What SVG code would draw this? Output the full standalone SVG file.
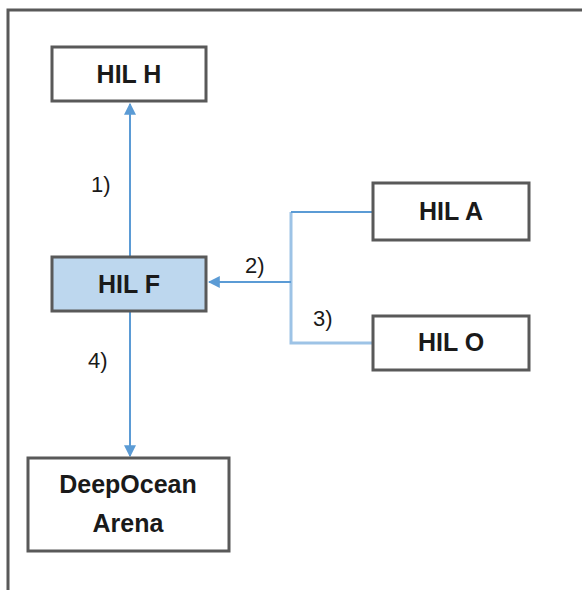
<svg xmlns="http://www.w3.org/2000/svg" width="582" height="590" viewBox="0 0 582 590">
<defs>
<style>
.box{fill:#ffffff;stroke:#595959;stroke-width:3}
.hl{fill:#bdd7ee}
.t{font-family:"Liberation Sans",Arial,sans-serif;font-weight:bold;font-size:25px;fill:#1a1a1a;text-anchor:middle}
.lb{font-family:"Liberation Sans",Arial,sans-serif;font-size:22px;fill:#1a1a1a}
.c{fill:none;stroke:#5b9bd5;stroke-width:2}
.cl{fill:none;stroke:#9dc3e6;stroke-width:3}
</style>
<marker id="ah" viewBox="0 0 10 10" refX="9" refY="5" markerWidth="6" markerHeight="6" orient="auto" markerUnits="strokeWidth">
<path d="M0,0 L10,5 L0,10 z" fill="#5b9bd5"/>
</marker>
</defs>
<rect width="582" height="590" fill="#ffffff"/>
<path d="M8,590 V10 H582" fill="none" stroke="#595959" stroke-width="3"/>
<g id="connectors">
<line class="c" x1="130" y1="257" x2="130" y2="104" marker-end="url(#ah)"/>
<line class="c" x1="130" y1="311" x2="130" y2="456" marker-end="url(#ah)"/>
<path class="cl" d="M291,212 V343 H373"/>
<path class="c" d="M291,212 H373"/>
<line class="c" x1="291" y1="282" x2="209" y2="282" marker-end="url(#ah)"/>
<text class="lb" x="91" y="192">1)</text>
<text class="lb" x="245" y="273">2)</text>
<text class="lb" x="313" y="326">3)</text>
<text class="lb" x="88" y="368">4)</text>
</g>
<g id="hil-h"><rect class="box" x="52" y="47" width="154" height="54"/><text class="t" x="129" y="83">HIL H</text></g>
<g id="hil-f"><rect class="box hl" x="52" y="257" width="154" height="54"/><text class="t" x="129" y="293">HIL F</text></g>
<g id="hil-a"><rect class="box" x="373" y="183" width="156" height="57"/><text class="t" x="451" y="220">HIL A</text></g>
<g id="hil-o"><rect class="box" x="373" y="316" width="156" height="54"/><text class="t" x="451" y="351">HIL O</text></g>
<g id="deepocean"><rect class="box" x="28" y="458" width="201" height="93"/><text class="t" x="128" y="493">DeepOcean</text><text class="t" x="128" y="532">Arena</text></g>
</svg>
